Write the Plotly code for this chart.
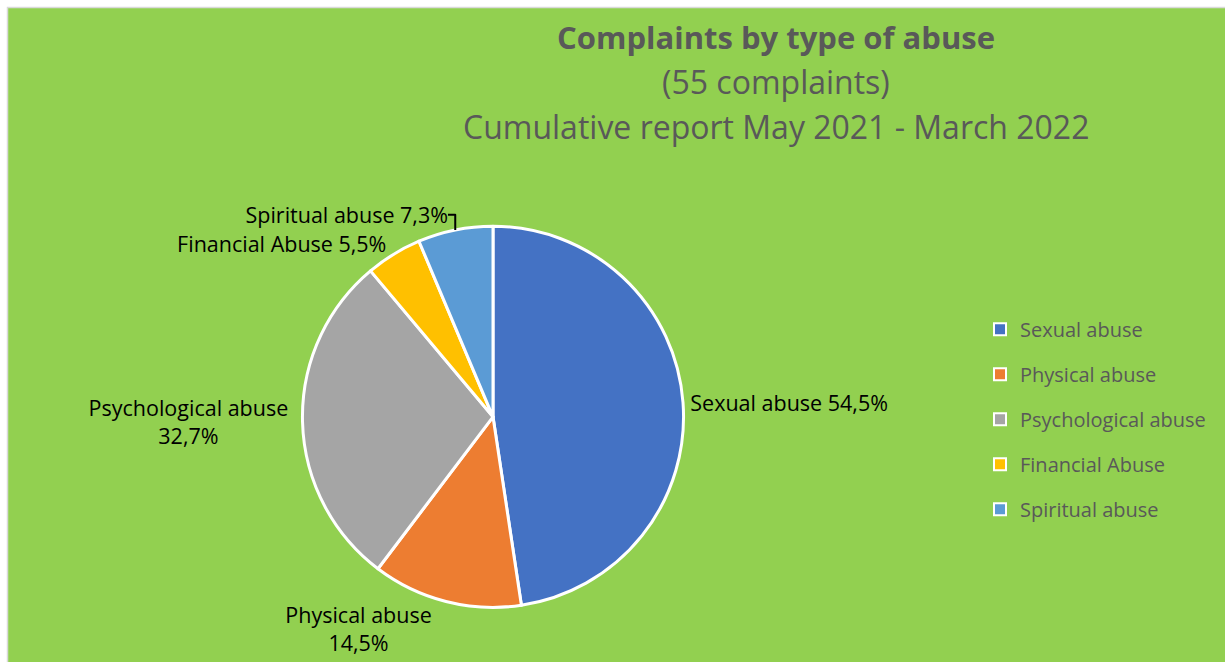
import plotly.graph_objects as go

categories = ["Sexual abuse", "Physical abuse", "Psychological abuse", "Financial Abuse", "Spiritual abuse"]
counts = [30, 8, 18, 3, 4]
total_complaints = 55
colors = ["#4472C4", "#ED7D31", "#A5A5A5", "#FFC000", "#5B9BD5"]
label_breaks = [" ", "<br>", "<br>", " ", " "]

texts = []
for c, v, b in zip(categories, counts, label_breaks):
    pct = f"{v / total_complaints * 100:.1f}".replace(".", ",")
    texts.append(f"{c}{b}{pct}%")

W, H = 1225, 662
FONT = "Open Sans"
GRAY = "#595959"

fig = go.Figure()
fig.add_trace(go.Pie(
    labels=categories,
    values=counts,
    text=texts,
    textinfo="text",
    textposition="outside",
    sort=False,
    direction="clockwise",
    rotation=0,
    showlegend=False,
    marker=dict(colors=colors, line=dict(color="white", width=3)),
    textfont=dict(family=FONT, size=21.5, color="black"),
    domain=dict(x=[301 / W, 685 / W], y=[1 - 612 / H, 1 - 228 / H]),
    hoverinfo="label+value",
))

# legend entries (one per category, so their spacing can be set)
for c, col in zip(categories, colors):
    fig.add_trace(go.Scatter(
        x=[None], y=[None], mode="markers", name=c, legendgroup=c,
        marker=dict(symbol="square", size=9, color=col, line=dict(color="white", width=3)),
        hoverinfo="skip",
    ))

fig.add_shape(type="rect", xref="paper", yref="paper",
              x0=7.5 / W, x1=1.01, y0=-0.01, y1=1 - 7.5 / H,
              fillcolor="#92D050", line=dict(color="#D9D9D9", width=1.5), layer="below")

title_lines = [
    ("<b>Complaints by type of abuse</b>", 37, 31),
    ("(55 complaints)", 82, 32),
    ("Cumulative report May 2021 - March 2022", 127, 32),
]
for t, y, s in title_lines:
    fig.add_annotation(text=t, x=776 / W, y=1 - y / H, xref="paper", yref="paper",
                       xanchor="center", yanchor="middle", showarrow=False,
                       font=dict(family=FONT, size=s, color=GRAY))

fig.update_layout(
    width=W, height=H,
    margin=dict(l=0, r=0, t=0, b=0),
    paper_bgcolor="white",
    plot_bgcolor="rgba(0,0,0,0)",
    xaxis=dict(visible=False),
    yaxis=dict(visible=False),
    showlegend=True,
    legend=dict(x=980 / W, y=1 - 312 / H, xanchor="left", yanchor="top",
                font=dict(family=FONT, size=20, color=GRAY),
                bgcolor="rgba(0,0,0,0)", tracegroupgap=16, itemsizing="constant",
                itemwidth=30),
)

fig.write_html("out.html")
